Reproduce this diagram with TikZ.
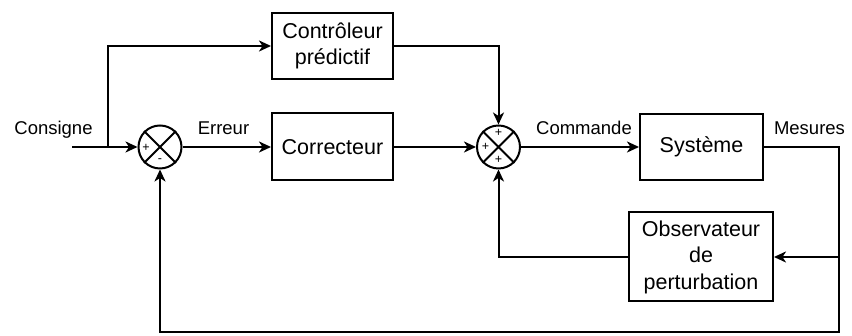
\documentclass[tikz,border=0pt]{standalone}
\usepackage{fontspec}
\setmainfont{Liberation Sans}
\usetikzlibrary{arrows.meta}
\begin{document}
\begin{tikzpicture}[x=1pt,y=1pt,
  line width=2pt,
  blk/.style={draw, rectangle, inner sep=0pt, align=center,
    font=\fontsize{21.5}{26.5}\selectfont},
  sumnode/.style={draw, circle, minimum size=43pt, inner sep=0pt},
  arr/.style={-{Stealth[length=12pt,width=11pt,inset=3.5pt]}},
  lbl/.style={font=\fontsize{18.5}{22}\selectfont, anchor=base, inner sep=0pt},
  sgn/.style={font=\fontsize{12.5}{13}\selectfont, inner sep=0pt}]
\useasboundingbox (0,0) rectangle (852,336);

% summing junctions
\node[sumnode] (s1) at (160,189) {};
\node[sumnode] (s2) at (498.5,189) {};
\draw[line width=1.8pt] (s1.north west) -- (s1.south east) (s1.north east) -- (s1.south west);
\draw[line width=1.8pt] (s2.north west) -- (s2.south east) (s2.north east) -- (s2.south west);
\node[sgn] (s1p) at ([shift={(-14,-1)}]s1.center) {+};
\node[sgn] (s1m) at ([shift={(0,-14)}]s1.center) {-};
\node[sgn] (s2t) at ([shift={(0,14)}]s2.center) {+};
\node[sgn] (s2l) at ([shift={(-13,0)}]s2.center) {+};
\node[sgn] (s2b) at ([shift={(0,-13)}]s2.center) {+};

% blocks
\node[blk, minimum width=121pt, minimum height=66pt] (ctrl) at (332.5,290) {Contrôleur\\prédictif};
\node[blk, minimum width=121pt, minimum height=67pt] (corr) at (332.5,189) {Correcteur};
\node[blk, minimum width=123pt, minimum height=66pt] (sys) at (701.5,189) {Système};
\node[blk, minimum width=144pt, minimum height=89pt] (obs) at (701,79) {Observateur\\de\\perturbation};

% labels
\node[lbl] (lcons) at (53.5,201) {Consigne};
\node[lbl] (lerr) at (223.5,201) {Erreur};
\node[lbl] (lcmd) at (584,201) {Commande};
\node[lbl] (lmes) at (809.5,201) {Mesures};

% connectors
\coordinate (in) at (72,189);
\coordinate (br) at (108,189);
\coordinate (rc) at (839,4);
\coordinate (ob) at (839,79);
\draw[arr] (in) -- (s1.west);
\draw[arr] (br) |- (ctrl.west);
\draw[arr] (s1.east) -- (corr.west);
\draw[arr] (corr.east) -- (s2.west);
\draw[arr] (ctrl.east) -| (s2.north);
\draw[arr] (s2.east) -- (sys.west);
\draw[arr] (sys.east) -| (rc) -| (s1.south);
\draw[arr] (ob) -- (obs.east);
\draw[arr] (obs.west) -| (s2.south);
\end{tikzpicture}
\end{document}
